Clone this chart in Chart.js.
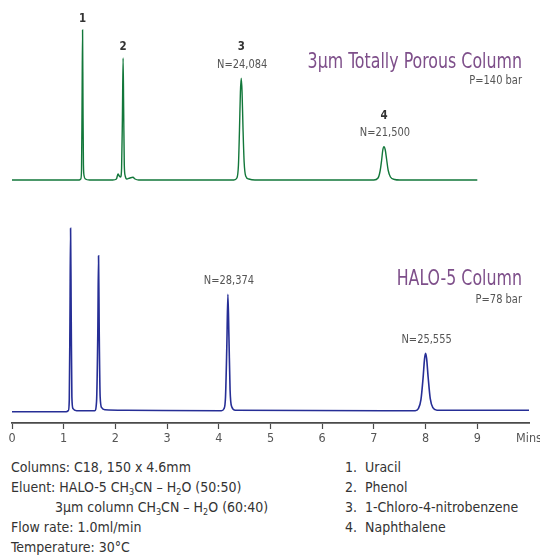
<!DOCTYPE html>
<html>
<head>
<meta charset="utf-8">
<script src="https://cdn.jsdelivr.net/npm/chart.js@4.4.1/dist/chart.umd.min.js"></script>
<style>
  html, body { margin: 0; padding: 0; background: #fff; }
  #wrap { position: relative; width: 540px; height: 555px; }
  #chart { position: absolute; left: 0; top: 0; }
  .notes { position: absolute; top: 457px; font: 14px 'DejaVu Sans Condensed', sans-serif; color: #333; line-height: 20px; }
  .notes div { white-space: nowrap; }
  sub { font-size: 9px; vertical-align: -3px; line-height: 0; }
</style>
</head>
<body>
<div id="wrap">
  <canvas id="chart" width="540" height="450"></canvas>
  <div class="notes" style="left:11px">
    <div>Columns: C18, 150 x 4.6mm</div>
    <div>Eluent: HALO-5 CH<sub>3</sub>CN – H<sub>2</sub>O (50:50)</div>
    <div style="padding-left:44px">3µm column CH<sub>3</sub>CN – H<sub>2</sub>O (60:40)</div>
    <div>Flow rate: 1.0ml/min</div>
    <div>Temperature: 30°C</div>
  </div>
  <div class="notes" style="left:345px">
    <div>1.&nbsp; Uracil</div>
    <div>2.&nbsp; Phenol</div>
    <div>3.&nbsp; 1-Chloro-4-nitrobenzene</div>
    <div>4.&nbsp; Naphthalene</div>
  </div>
</div>
<script>
// 3um totally porous column trace (time in min, detector response)
const porousTime = [0, 1.30, 1.33, 1.345, 1.355, 1.365, 1.373, 1.382, 1.395, 1.42, 1.5,
  1.95, 2.02, 2.05, 2.075, 2.10, 2.12, 2.135, 2.149, 2.16, 2.172, 2.19, 2.22, 2.28, 2.34, 2.38, 2.45,
  4.29, 4.35, 4.38, 4.40, 4.418, 4.434, 4.45, 4.468, 4.49, 4.52, 4.58, 4.7,
  7.0, 7.08, 7.12, 7.15, 7.172, 7.195, 7.22, 7.245, 7.275, 7.32, 7.4, 7.5, 9.0];
const porousResp = [0, 0, 1, 10, 75, 150, 75, 15, 4, 1, 0,
  0, 1, 6, 4, 3, 12, 60, 122, 70, 15, 4, 1, 2, 2.7, 1, 0,
  0, 2, 15, 50, 88, 101.7, 88, 52, 18, 4, 1, 0,
  0, 2, 9, 20, 30, 33.3, 30, 21, 10, 3, 0.5, 0, 0];

// HALO-5 column trace
const haloTime = [0, 1.05, 1.09, 1.108, 1.121, 1.133, 1.145, 1.158, 1.18, 1.25, 1.55,
  1.60, 1.635, 1.66, 1.674, 1.687, 1.705, 1.735, 1.8, 2.2,
  4.05, 4.10, 4.13, 4.155, 4.176, 4.196, 4.218, 4.25, 4.32,
  7.8, 7.86, 7.91, 7.95, 7.98, 8.0, 8.02, 8.05, 8.09, 8.14, 8.22, 10];
const haloResp = [0, 0, 1, 12, 90, 183.4, 95, 15, 3, 1, 1,
  1, 10, 80, 156, 80, 15, 4, 2, 1.5,
  1, 3, 15, 65, 117.4, 75, 22, 5, 1.5,
  1, 3, 12, 33, 53, 58.4, 53, 34, 13, 4, 1.5, 1.5];

const xTicks = [0, 1, 2, 3, 4, 5, 6, 7, 8, 9, 10];
const xTickLabels = ['0', '1', '2', '3', '4', '5', '6', '7', '8', '9', 'Mins'];

const peakNumbers = ['1', '2', '3', '4'];
const porousPeakTimes = [1.365, 2.149, 4.434, 7.195];
const porousPlates = ['', '', 'N=24,084', 'N=21,500'];
const haloPeakTimes = [1.133, 1.674, 4.176, 8.0];
const haloPlates = ['', '', 'N=28,374', 'N=25,555'];

const porousTitle = '3µm Totally Porous Column';
const porousPressure = 'P=140 bar';
const haloTitle = 'HALO-5 Column';
const haloPressure = 'P=78 bar';

const OFFSET = 231.7; // vertical stacking of the upper trace
const FONT = "'DejaVu Sans Condensed', sans-serif";

function toPoints(ts, ys, off) {
  return ts.map((t, i) => ({ x: t, y: ys[i] + off }));
}

function peakTop(ts, ys, t) {
  let best = 0;
  ts.forEach((v, i) => { if (Math.abs(v - t) < 0.03 && ys[i] > best) best = ys[i]; });
  return best;
}

// narrow text, the original uses a condensed face
function narrowText(ctx, text, x, y, sx) {
  ctx.save();
  ctx.translate(x, y);
  ctx.scale(sx, 1);
  ctx.fillText(text, 0, 0);
  ctx.restore();
}

const labelsPlugin = {
  id: 'peakLabels',
  afterDatasetsDraw(chart) {
    const { ctx, scales: { x, y }, chartArea } = chart;
    ctx.save();
    ctx.textAlign = 'center';
    ctx.textBaseline = 'middle';

    porousPeakTimes.forEach((t, i) => {
      const px = x.getPixelForValue(t);
      const py = y.getPixelForValue(peakTop(porousTime, porousResp, t) + OFFSET);
      ctx.font = 'bold 12px ' + FONT;
      ctx.fillStyle = '#333';
      if (porousPlates[i]) {
        narrowText(ctx, peakNumbers[i], px, py - 31, 0.95);
        ctx.font = '12.5px ' + FONT;
        ctx.fillStyle = '#555';
        narrowText(ctx, porousPlates[i], px + 1, py - 14, 0.88);
      } else {
        narrowText(ctx, peakNumbers[i], px, py - 11, 0.95);
      }
    });

    haloPeakTimes.forEach((t, i) => {
      if (!haloPlates[i]) return;
      const px = x.getPixelForValue(t);
      const py = y.getPixelForValue(peakTop(haloTime, haloResp, t));
      ctx.font = '12.5px ' + FONT;
      ctx.fillStyle = '#555';
      narrowText(ctx, haloPlates[i], px + 1, py - 14, 0.88);
    });

    const right = chartArea.right - 7;
    ctx.textAlign = 'right';
    const gBase = y.getPixelForValue(OFFSET);
    const bBase = y.getPixelForValue(0);
    ctx.fillStyle = '#7e4f8a';
    ctx.font = '22px ' + FONT;
    narrowText(ctx, porousTitle, right, gBase - 118, 0.8);
    narrowText(ctx, haloTitle, right, bBase - 132, 0.8);
    ctx.fillStyle = '#555';
    ctx.font = '12.5px ' + FONT;
    narrowText(ctx, porousPressure, right, gBase - 99, 0.88);
    narrowText(ctx, haloPressure, right, bBase - 112, 0.88);
    ctx.restore();
  }
};

new Chart(document.getElementById('chart'), {
  type: 'line',
  data: {
    datasets: [{
      label: '3µm Totally Porous Column',
      data: toPoints(porousTime, porousResp, OFFSET),
      borderColor: '#12773a',
      borderWidth: 1.4
    }, {
      label: 'HALO-5 Column',
      data: toPoints(haloTime, haloResp, 0),
      borderColor: '#262e96',
      borderWidth: 1.6
    }]
  },
  options: {
    responsive: false,
    animation: false,
    elements: { point: { radius: 0 }, line: { cubicInterpolationMode: 'monotone' } },
    layout: { padding: { left: 12, right: 11, top: 10, bottom: 0 } },
    plugins: { legend: { display: false }, tooltip: { enabled: false } },
    scales: {
      x: {
        type: 'linear',
        min: 0,
        max: 10,
        afterBuildTicks: (s) => { s.ticks = xTicks.map(v => ({ value: v })); },
        afterFit: (s) => { s.paddingLeft = 0; s.paddingRight = 0; s.height = 27; },
        border: { display: true, color: '#4a4a4a', width: 1.8 },
        grid: {
          drawOnChartArea: false,
          drawTicks: true,
          tickLength: 6,
          tickWidth: 1.2,
          tickColor: (c) => c.index === 10 ? 'rgba(0,0,0,0)' : '#4a4a4a'
        },
        ticks: {
          autoSkip: false,
          maxRotation: 0,
          padding: 2,
          color: '#555',
          font: { family: FONT, size: 12.5 },
          callback: (v, i) => xTickLabels[i]
        }
      },
      y: {
        display: false,
        min: -11.3,
        max: 401.7
      }
    }
  },
  plugins: [labelsPlugin]
});
</script>
</body>
</html>
